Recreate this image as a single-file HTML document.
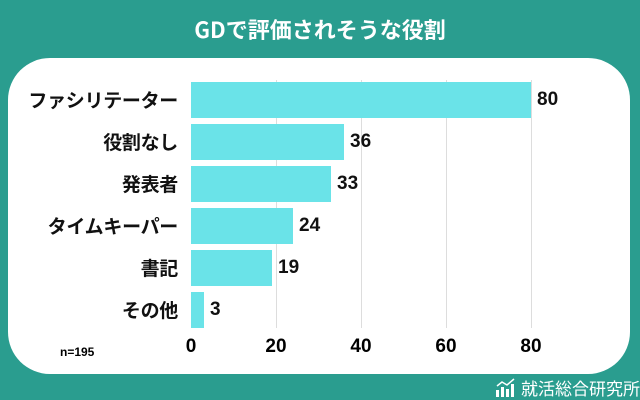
<!DOCTYPE html>
<html><head><meta charset="utf-8"><style>
body{margin:0;width:640px;height:400px;background:#2a9d8f;position:relative;overflow:hidden;font-family:"Liberation Sans","Noto Sans CJK JP",sans-serif}
.t{position:absolute;top:13px;left:0;width:640px;text-align:center;color:#fff;font-size:22px;font-weight:bold;font-family:"Noto Sans CJK JP",sans-serif}
.p{position:absolute;left:8px;top:58px;width:622px;height:316px;background:#fff;border-radius:42px}
.g{position:absolute;top:80px;height:248px;width:1px;background:#ddd}
.b{position:absolute;left:191px;height:36px;background:#6ae3e8}
.l{position:absolute;right:462px;font-size:19px;font-weight:bold;color:#111;font-family:"Noto Sans CJK JP",sans-serif;line-height:36px;white-space:nowrap;letter-spacing:-0.3px}
.v{position:absolute;font-size:19px;font-weight:bold;color:#111;line-height:36px}
.x{position:absolute;top:336px;font-size:19px;font-weight:bold;width:40px;margin-left:-20px;text-align:center}
</style></head><body>
<div class="t">GDで評価されそうな役割</div>
<div class="p"></div>
<div class="g" style="left:276px"></div><div class="g" style="left:361px"></div><div class="g" style="left:446px"></div><div class="g" style="left:531px"></div>
<div class="b" style="top:82px;width:340px"></div><div class="l" style="top:82px">ファシリテーター</div><div class="v" style="top:82px;left:537px">80</div>
<div class="b" style="top:124px;width:153px"></div><div class="l" style="top:124px">役割なし</div><div class="v" style="top:124px;left:350px">36</div>
<div class="b" style="top:166px;width:140px"></div><div class="l" style="top:166px">発表者</div><div class="v" style="top:166px;left:337px">33</div>
<div class="b" style="top:208px;width:102px"></div><div class="l" style="top:208px">タイムキーパー</div><div class="v" style="top:208px;left:299px">24</div>
<div class="b" style="top:250px;width:81px"></div><div class="l" style="top:250px">書記</div><div class="v" style="top:250px;left:278px">19</div>
<div class="b" style="top:292px;width:13px"></div><div class="l" style="top:292px">その他</div><div class="v" style="top:292px;left:210px">3</div>
<div class="x" style="left:191px">0</div><div class="x" style="left:276px">20</div><div class="x" style="left:361px">40</div><div class="x" style="left:446px">60</div><div class="x" style="left:531px">80</div>
<div style="position:absolute;left:60px;top:345px;font-size:12px;font-weight:bold">n=195</div>
<div style="position:absolute;left:495px;top:375px;color:#fff;font-size:17px;font-family:'Noto Sans CJK JP',sans-serif;display:flex;align-items:center;gap:4px">
<svg width="22" height="20" viewBox="0 0 22 20"><rect x="1" y="12" width="3" height="7" fill="#fff"/><rect x="6" y="9" width="3" height="10" fill="#fff"/><rect x="11" y="11" width="3" height="8" fill="#fff"/><rect x="16" y="6" width="3" height="13" fill="#fff"/><polyline points="2,8 7,4 12,7 19,1" stroke="#fff" stroke-width="1.5" fill="none"/></svg>就活総合研究所</div>
</body></html>
